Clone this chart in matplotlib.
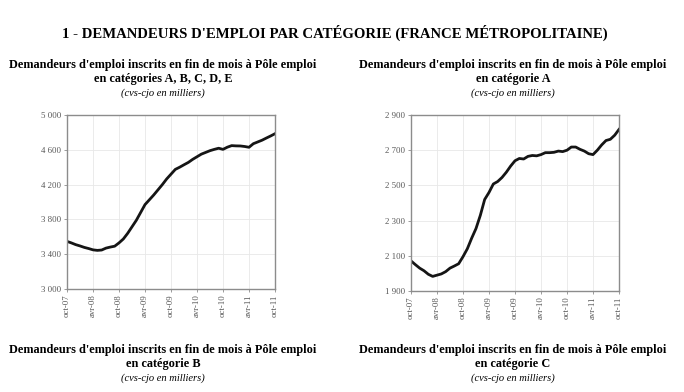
import matplotlib
matplotlib.use("Agg")
import matplotlib.pyplot as plt
import numpy as np

plt.rcParams['font.family'] = ['Liberation Serif', 'DejaVu Serif']

tick_labels = ["oct-07", "avr-08", "oct-08", "avr-09", "oct-09", "avr-10", "oct-10", "avr-11", "oct-11"]

cat_abcde = [3547, 3530, 3510, 3495, 3478, 3465, 3450, 3444, 3448, 3470, 3482, 3492,
             3530, 3575, 3640, 3715, 3790, 3880, 3970, 4025, 4080, 4140, 4200, 4265,
             4320, 4375, 4400, 4428, 4455, 4490, 4520, 4550, 4570, 4590, 4605, 4618,
             4605, 4630, 4648, 4645, 4644, 4638, 4629, 4670, 4690, 4710, 4735, 4759, 4785]

cat_a = [2071, 2050, 2030, 2015, 1995, 1983, 1990, 1997, 2010, 2030, 2042, 2055,
         2095, 2140, 2200, 2255, 2330, 2420, 2460, 2508, 2522, 2545, 2575, 2610,
         2640, 2653, 2650, 2665, 2670, 2668, 2675, 2686, 2686, 2688, 2695, 2692,
         2700, 2718, 2718, 2705, 2695, 2680, 2675, 2700, 2730, 2755, 2762, 2785, 2818]

left_yticks = [3000, 3400, 3800, 4200, 4600, 5000]
right_yticks = [1900, 2100, 2300, 2500, 2700, 2900]

title = "1 - DEMANDEURS D'EMPLOI PAR CATÉGORIE (FRANCE MÉTROPOLITAINE)"
sub_line1 = "Demandeurs d'emploi inscrits en fin de mois à Pôle emploi"
sub_top = ["en catégories A, B, C, D, E", "en catégorie A"]
sub_bottom = ["en catégorie B", "en catégorie C"]
unit = "(cvs-cjo en milliers)"

W, H = 684, 392
fig = plt.figure(figsize=(W / 100, H / 100), dpi=100)

def px_axes(x0, y0, x1, y1):
    return fig.add_axes([x0 / W, 1 - y1 / H, (x1 - x0) / W, (y1 - y0) / H])

def draw(ax, data, yticks):
    x = np.arange(len(data))
    ax.plot(x, data, color='#151515', lw=2.0, solid_joinstyle='round')
    ax.set_xlim(0, len(data) - 1)
    ax.set_ylim(yticks[0], yticks[-1])
    ax.set_yticks(yticks)
    ax.set_yticklabels([f"{v:,}".replace(",", " ") for v in yticks], fontsize=6.3)
    ax.set_xticks(np.arange(0, len(data), 6))
    ax.set_xticklabels(tick_labels, rotation=90, fontsize=6.3)
    ax.grid(True, color='#e8e8e8', lw=0.6)
    for s in ax.spines.values():
        s.set_color('#8c8c8c')
        s.set_linewidth(1.0)
    ax.tick_params(length=2, width=0.6, color='#8c8c8c', pad=2, labelcolor='#555555')

ax1 = px_axes(67, 115, 275, 289)
draw(ax1, cat_abcde, left_yticks)
ax2 = px_axes(411, 115, 619, 291)
draw(ax2, cat_a, right_yticks)

fig.text(335 / W, 1 - 33 / H, title, ha='center', va='center', fontsize=10.6, fontweight='bold')

for cx, l2, l2b in [(163, sub_top[0], sub_bottom[0]), (513, sub_top[1], sub_bottom[1])]:
    fig.text(cx / W, 1 - 65 / H, sub_line1, ha='center', va='center', fontsize=8.8, fontweight='bold')
    fig.text(cx / W, 1 - 79 / H, l2, ha='center', va='center', fontsize=8.8, fontweight='bold')
    fig.text(cx / W, 1 - 93 / H, unit, ha='center', va='center', fontsize=7.6, style='italic')
    fig.text(cx / W, 1 - 350 / H, sub_line1, ha='center', va='center', fontsize=8.8, fontweight='bold')
    fig.text(cx / W, 1 - 364 / H, l2b, ha='center', va='center', fontsize=8.8, fontweight='bold')
    fig.text(cx / W, 1 - 378 / H, unit, ha='center', va='center', fontsize=7.6, style='italic')

fig.savefig("out.png", dpi=100, facecolor='white')
